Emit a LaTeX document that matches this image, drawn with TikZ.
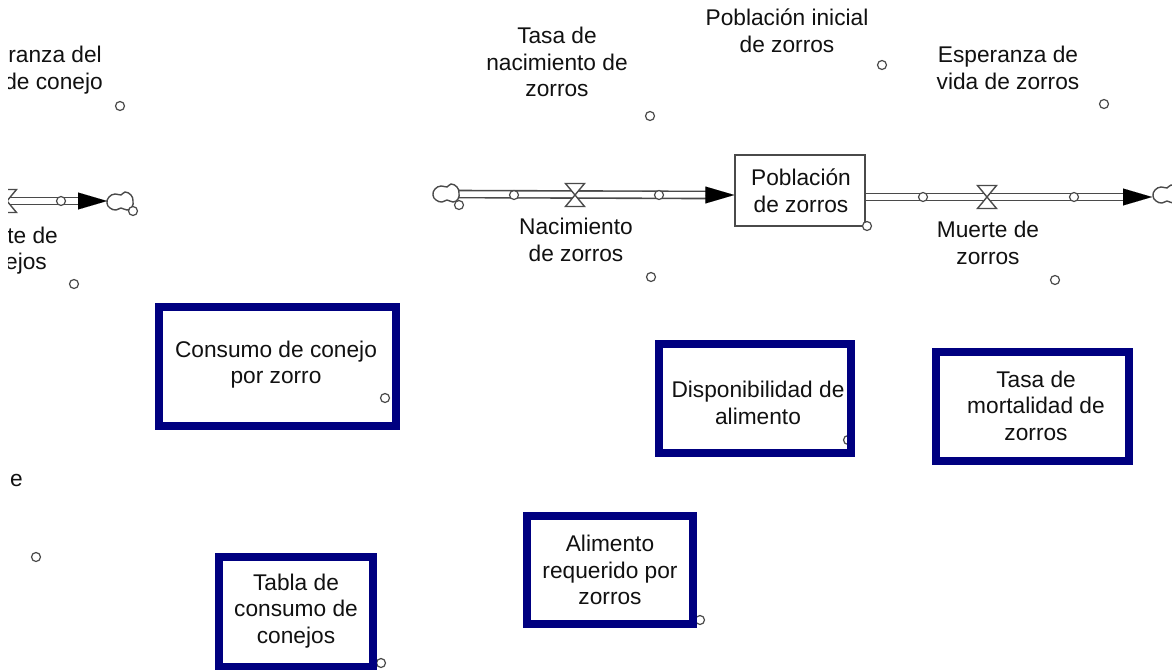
\documentclass[tikz,border=0pt]{standalone}
\usepackage{fontspec}
\setmainfont{Liberation Sans}
\usetikzlibrary{arrows.meta,calc}
\definecolor{navyc}{HTML}{000080}
\definecolor{txt}{HTML}{111111}
\definecolor{pipec}{HTML}{4A4A4A}
\begin{document}
\begin{tikzpicture}[x=1pt,y=-1pt,
 lbl/.style={align=center,inner sep=0pt,text=txt,font=\fontsize{22.7}{26.5}\selectfont},
 aux/.style={circle,draw=pipec,fill=white,line width=1.2pt,minimum size=9pt,inner sep=0pt},
 navybox/.style={draw=navyc,line width=8pt,inner sep=0pt},
 stockbox/.style={draw=pipec,fill=white,line width=1.4pt,minimum width=130pt,minimum height=71pt},
 pipe/.style={draw=pipec,line width=1.6pt,double=white,double distance=5.5pt},
 valvest/.style={draw=pipec,fill=white,line width=1.4pt,line join=miter},
 cloudst/.style={draw=pipec,fill=white,line width=1.4pt},
 flowtip/.style={-{Triangle[length=29pt,width=17pt]},line width=0.01pt,draw=black,fill=black},
 cloudpic/.pic={\draw[cloudst] plot[smooth cycle,tension=0.8] coordinates {(-13,1) (-11,-5) (-5,-8) (1,-7) (5,-10) (11,-7) (13,-1) (12,5) (7,8) (1,6) (-4,8) (-10,6)};},
 valvepic/.pic={\draw[valvest] (-9.5,-11.5) -- (9.5,-11.5) -- (0,0) -- cycle; \draw[valvest] (-9.5,11.5) -- (9.5,11.5) -- (0,0) -- cycle;}
]
\useasboundingbox (0,0) rectangle (1172,669);
\fill[white] (0,0) rectangle (1172,669);
\begin{scope}
\clip (0,0) rectangle (1172,669);

% ---------- left, partly cut-off flow ----------
\begin{scope}
\clip (8,0) rectangle (400,669);
\coordinate (vL) at (7,201);
\coordinate (lBase) at (78,201);
\coordinate (lTip) at (107,201);
\coordinate (cL) at (120,202);
\draw[pipe] (vL) -- ($(lBase)+(2,0)$);
\pic at (cL) {cloudpic};
\pic at (vL) {valvepic};
\draw[flowtip] (lBase) -- (lTip);
\node[lbl,anchor=base east] (espA) at (102,63) {ranza del};
\node[lbl,anchor=base east] (espB) at (103,89.5) {de conejo};
\node[lbl,anchor=base east] (muA) at (58,243) {te de};
\node[lbl,anchor=base east] (muB) at (47,269.5) {ejos};
\node[lbl,anchor=base east] (eL) at (23,486) {e};
\end{scope}

% ---------- fox stock and flows ----------
\node[stockbox] (stock) at (800,190.5) {};
\coordinate (cIn) at (446,194);
\coordinate (vIn) at (575,195);
\coordinate (inBase) at (706,195);
\coordinate (inTip) at (stock.west |- vIn);
\coordinate (vOut) at (987,197);
\coordinate (outStart) at (stock.east |- vOut);
\coordinate (outBase) at (1123,197);
\coordinate (outTip) at (1152,197);
\coordinate (cOut) at (1166,195);

\draw[pipe] (cIn) -- ($(inBase)+(2,0)$);
\draw[pipe] (outStart) -- ($(outBase)+(2,0)$);
\pic at (cIn) {cloudpic};
\pic at (cOut) {cloudpic};
\pic at (vIn) {valvepic};
\pic at (vOut) {valvepic};
\draw[flowtip] (inBase) -- (inTip);
\draw[flowtip] (outBase) -- (outTip);
\node[stockbox] at (stock) {};
\node[lbl] (stockTxt) at (801,191) {Población\\de zorros};

% ---------- small auxiliary circles ----------
\foreach \n/\p in {a1/{(120,106)},a2/{(74,284)},a3/{(36,557)},a4/{(61,201)},a5/{(133,211)},
  a6/{(459,205)},a7/{(514,195)},a8/{(659,195)},a9/{(650,116)},a10/{(882,65)},a11/{(1104,104)},
  a12/{(651,277)},a13/{(1055,280)},a14/{(867,226)},a15/{(923,197)},a16/{(1074,197)},
  a17/{(385,398)},a18/{(848,440)},a19/{(700,620)},a20/{(381,663)}}
  {\node[aux] (\n) at \p {};}

% ---------- navy boxes ----------
\node[navybox,minimum width=237pt,minimum height=119pt] (b1) at (277.5,366.5) {};
\node[navybox,minimum width=192pt,minimum height=109pt] (b2) at (755,398.5) {};
\node[navybox,minimum width=193pt,minimum height=109pt] (b3) at (1032.5,406.5) {};
\node[navybox,minimum width=166pt,minimum height=108pt] (b4) at (610,570) {};
\node[navybox,minimum width=154pt,minimum height=110pt] (b5) at (296,612) {};

% ---------- labels ----------
\node[lbl] (tasaNac) at (557,62) {Tasa de\\nacimiento de\\zorros};
\node[lbl] (pobIni) at (787,31) {Población inicial\\de zorros};
\node[lbl] (espZ) at (1008,68) {Esperanza de\\vida de zorros};
\node[lbl] (nacZ) at (576,240) {Nacimiento\\de zorros};
\node[lbl] (muZ) at (988,243) {Muerte de\\zorros};
\node[lbl] (t1) at (276,364.5) {Consumo de conejo\\por zorro};
\node[lbl] (t2) at (758,403) {Disponibilidad de\\alimento};
\node[lbl] (t3) at (1036,405.5) {Tasa de\\mortalidad de\\zorros};
\node[lbl] (t4) at (610,570) {Alimento\\requerido por\\zorros};
\node[lbl] (t5) at (296,611) {Tabla de\\consumo de\\conejos};
\end{scope}
\end{tikzpicture}
\end{document}
